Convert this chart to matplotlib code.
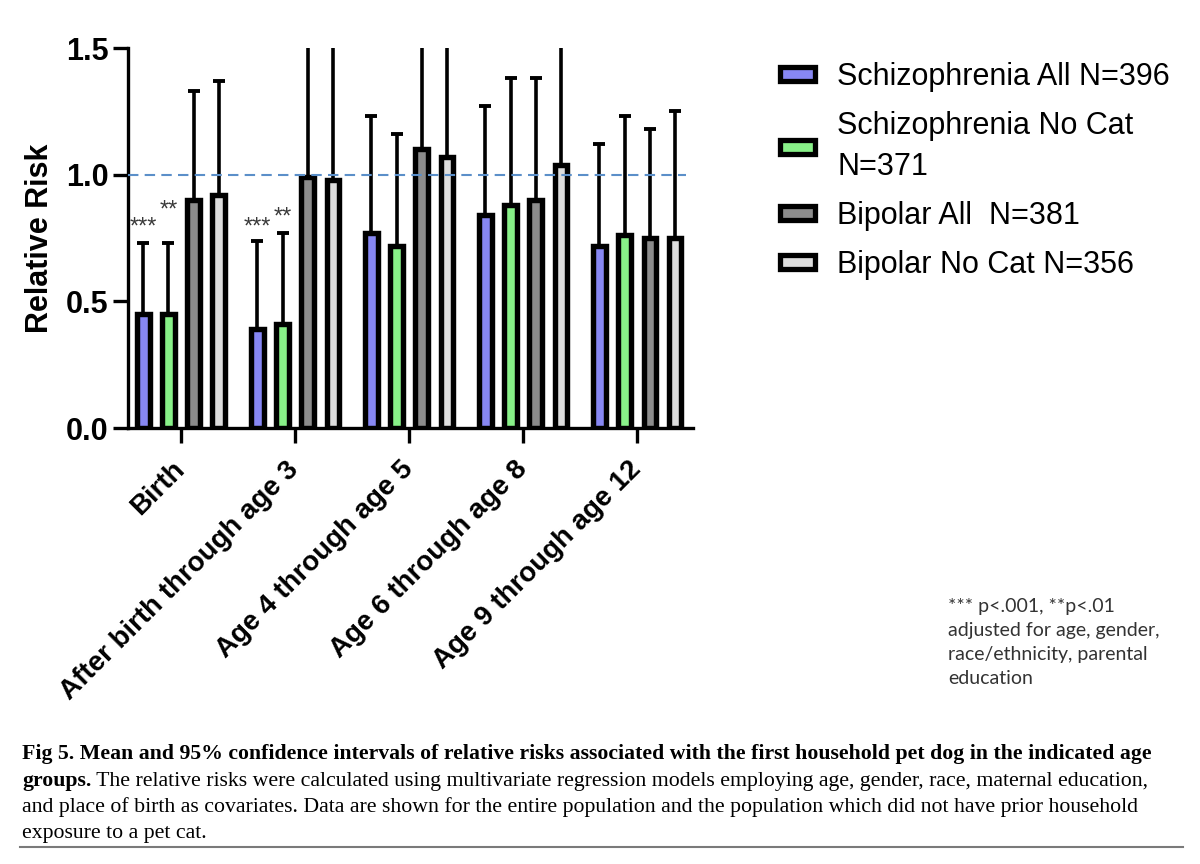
import matplotlib
matplotlib.use('Agg')
import matplotlib.pyplot as plt
from matplotlib.patches import Patch
from matplotlib.lines import Line2D
import numpy as np

categories = ['Birth', 'After birth through age 3', 'Age 4 through age 5',
              'Age 6 through age 8', 'Age 9 through age 12']
series_names = ['Schizophrenia All N=396', 'Schizophrenia No Cat\nN=371',
                'Bipolar All  N=381', 'Bipolar No Cat N=356']
series_colors = ['#8787f3', '#88f088', '#8c8c8c', '#dddddd']

# mean relative risk
schiz_all = [0.45, 0.39, 0.77, 0.84, 0.72]
schiz_nocat = [0.45, 0.41, 0.72, 0.88, 0.76]
bipolar_all = [0.90, 0.99, 1.10, 0.90, 0.75]
bipolar_nocat = [0.92, 0.98, 1.07, 1.04, 0.75]

# upper 95% CI (the 1.90 ones run off the top of the axis)
schiz_all_hi = [0.73, 0.74, 1.23, 1.27, 1.12]
schiz_nocat_hi = [0.73, 0.77, 1.16, 1.38, 1.23]
bipolar_all_hi = [1.33, 1.90, 1.90, 1.38, 1.18]
bipolar_nocat_hi = [1.37, 1.90, 1.90, 1.90, 1.25]

# significance stars: group, series, text, height
sig_group = [0, 0, 1, 1]
sig_series = [0, 1, 0, 1]
sig_text = ['***', '**', '***', '**']
sig_y = [0.79, 0.86, 0.79, 0.83]

footnote = ('*** p<.001, **p<.01\nadjusted for age, gender,\n'
            'race/ethnicity, parental\neducation')
caption_bold_1 = ('Fig 5. Mean and 95% confidence intervals of relative risks '
                  'associated with the first household pet dog in the indicated age')
caption_bold_2 = 'groups.'
caption_rest = [' The relative risks were calculated using multivariate regression models '
                'employing age, gender, race, maternal education,',
                'and place of birth as covariates. Data are shown for the entire population '
                'and the population which did not have prior household',
                'exposure to a pet cat.']

means = [schiz_all, schiz_nocat, bipolar_all, bipolar_nocat]
highs = [schiz_all_hi, schiz_nocat_hi, bipolar_all_hi, bipolar_nocat_hi]

W, H = 1200, 864
plt.rcParams['font.family'] = ['Liberation Sans', 'DejaVu Sans']
fig = plt.figure(figsize=(W / 100, H / 100), dpi=100)
ax = fig.add_axes([128 / W, 1 - 428 / H, 565 / W, 380 / H])

x = np.arange(len(categories))
step = 0.22
width = 0.108
for i in range(4):
  pos = x + (i - 1.5) * step
  vals = np.array(means[i])
  up = np.array(highs[i]) - vals
  ax.bar(pos, vals, width, color=series_colors[i], edgecolor='black',
         linewidth=3.9, zorder=3)
  ax.errorbar(pos, vals, yerr=[np.zeros(len(vals)), up], fmt='none',
              ecolor='black', elinewidth=2.6, capsize=4.5, capthick=2.8, zorder=2)

ax.axhline(1.0, xmax=0.987, color='#5b8fc9', linestyle=(0, (5, 3)),
           linewidth=1.5, zorder=4)

for g, s, t, y in zip(sig_group, sig_series, sig_text, sig_y):
  ax.text(g + (s - 1.5) * step, y, t, ha='center', va='center',
          fontsize=17, color='#3a3a3a')

ax.set_xlim(-0.465, 4.49)
ax.set_ylim(0, 1.5)
ax.set_yticks([0, 0.5, 1.0, 1.5])
ax.set_yticklabels(['0.0', '0.5', '1.0', '1.5'])
ax.set_xticks(x)
ax.set_xticklabels(categories)
for spine in ['top', 'right']:
  ax.spines[spine].set_visible(False)
for spine in ['left', 'bottom']:
  ax.spines[spine].set_linewidth(2.4)
ax.tick_params(axis='y', length=11, width=2.4, pad=3, labelsize=22)
ax.tick_params(axis='x', length=11, width=2.4, pad=16, labelsize=20)
for lab in ax.get_yticklabels():
  lab.set_fontweight('bold')
plt.setp(ax.get_xticklabels(), rotation=45, ha='right', va='center',
         rotation_mode='anchor', fontweight='bold')
ax.set_ylabel('Relative Risk', fontsize=22, fontweight='bold', va='center')
ax.yaxis.set_label_coords((40 - 128) / 565, 0.5)

handles = [Patch(facecolor=c, edgecolor='black', linewidth=3.8) for c in series_colors]
leg = fig.legend(handles, series_names, loc='upper left', bbox_to_anchor=(780 / W, 1 - 62 / H),
                 frameon=False, fontsize=22, handlelength=1.15, handleheight=0.33,
                 handletextpad=0.72, labelspacing=0.62, borderpad=0, borderaxespad=0)
for t in leg.get_texts():
  t.set_linespacing(1.5)

fig.text(948 / W, 1 - 598 / H, footnote, ha='left', va='top', fontsize=14,
         family='Lato', color='#333333', linespacing=1.5)

# caption below the chart
serif = 'Liberation Serif'
t1 = fig.text(22 / W, 1 - 759 / H, caption_bold_1, fontsize=15, family=serif,
              fontweight='bold', va='baseline')
fig.canvas.draw()
size = 15 * 1128 / t1.get_window_extent().width
t1.set_fontsize(size)
t2 = fig.text(22 / W, 1 - 786 / H, caption_bold_2, fontsize=size, family=serif,
              fontweight='bold', va='baseline')
ax.annotate(caption_rest[0], xy=(1, 0), xycoords=t2, fontsize=size, family=serif,
            va='bottom', annotation_clip=False)
fig.text(22 / W, 1 - 812 / H, caption_rest[1], fontsize=size, family=serif, va='baseline')
fig.text(22 / W, 1 - 838 / H, caption_rest[2], fontsize=size, family=serif, va='baseline')
fig.add_artist(Line2D([20 / W, 1183 / W], [1 - 847 / H, 1 - 847 / H],
                      color='#7a7a7a', linewidth=1.5))

fig.savefig('out.png', dpi=100)
